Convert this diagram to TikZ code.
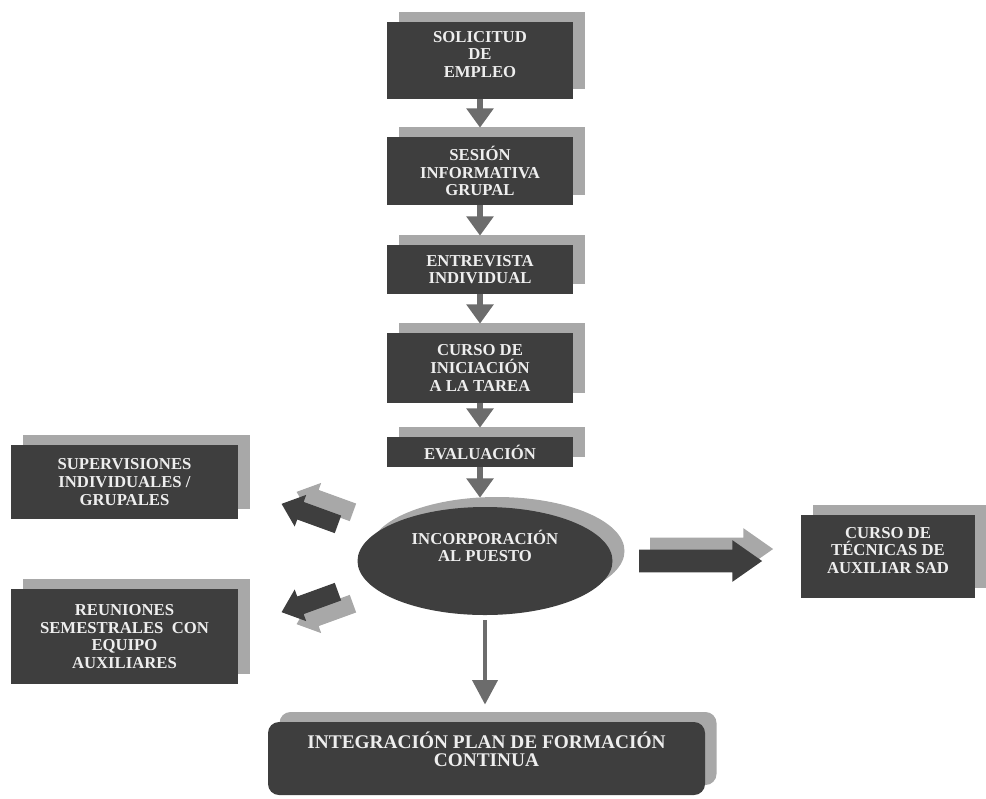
\documentclass[tikz,border=0pt]{standalone}
\usepackage{fontspec}
\setmainfont{Liberation Serif}
\usepackage{xcolor}
\usepackage{tikz}
\usetikzlibrary{shapes.geometric, shapes.arrows, arrows.meta, positioning, calc, shadows}
\definecolor{boxdark}{RGB}{62, 62, 62}
\definecolor{boxshade}{RGB}{168, 168, 168}
\definecolor{arrowgray}{RGB}{108, 108, 108}
\definecolor{textlight}{RGB}{238, 238, 238}
\tikzstyle{stage} = [rectangle, minimum width=3.72cm, inner sep=2pt, text centered, align=center, fill=boxdark, text=textlight, font=\bfseries\fontsize{9.5}{10}\selectfont, drop shadow={shadow xshift=0.23cm, shadow yshift=0.2cm, fill=boxshade, opacity=1}]
\tikzstyle{oval} = [ellipse, minimum width=5.1cm, minimum height=2.16cm, fill=boxdark, drop shadow={shadow xshift=0.24cm, shadow yshift=0.2cm, fill=boxshade, opacity=1}]
\tikzstyle{caption} = [align=center, inner sep=0pt, text=textlight, font=\bfseries\fontsize{9.5}{10}\selectfont]
\tikzstyle{flow} = [line width=3.4pt, draw=arrowgray, -{Triangle[width=15pt, length=11pt]}]
\tikzstyle{flowthin} = [line width=2.8pt, draw=arrowgray, -{Triangle[width=14pt, length=14pt]}]
\tikzstyle{fatarrow} = [single arrow, inner xsep=0pt, inner ysep=0.18cm, minimum height=1.2cm, minimum width=0.66cm, single arrow head extend=0.15cm, single arrow tip angle=80]
\tikzstyle{widearrow} = [fatarrow, inner ysep=0.22cm, minimum height=2.46cm, minimum width=0.82cm, single arrow head extend=0.19cm, single arrow tip angle=70]

\begin{document}
\begin{tikzpicture}
    \useasboundingbox (0,0) rectangle (19.72,-15.96);

    % Main column
    \node[stage, minimum height=1.54cm] (s1) at (9.6, -1.21) {SOLICITUD\\DE\\EMPLEO\\[-3pt]\mbox{}};
    \node[stage, minimum height=1.36cm] (s2) at (9.6, -3.42) {SESIÓN\\INFORMATIVA\\GRUPAL};
    \node[stage, minimum height=0.98cm] (s3) at (9.6, -5.39) {ENTREVISTA\\INDIVIDUAL};
    \node[stage, minimum height=1.4cm] (s4) at (9.6, -7.36) {CURSO DE\\INICIACIÓN\\A LA TAREA};
    \node[stage, minimum height=0.6cm] (s5) at (9.6, -9.04) {EVALUACIÓN};

    \node[oval] (inc) at (9.7, -11.22) {};
    \node[caption] (inctext) at ([yshift=0.3cm]inc.center) {INCORPORACIÓN\\AL PUESTO};

    % Side boxes
    \node[stage, minimum width=4.54cm, minimum height=1.48cm] (sup) at (2.49, -9.64) {SUPERVISIONES\\INDIVIDUALES /\\GRUPALES};
    \node[stage, minimum width=4.54cm, minimum height=1.9cm] (reu) at (2.49, -12.73) {REUNIONES\\SEMESTRALES\ \ CON\\EQUIPO\\AUXILIARES};
    \node[stage, minimum width=3.48cm, minimum height=1.66cm] (sad) at (17.76, -11.13) {CURSO DE\\TÉCNICAS DE\\AUXILIAR SAD\\[-3pt]\mbox{}};
    \node[stage, rounded corners=0.22cm, minimum width=8.74cm, minimum height=1.46cm, font=\bfseries\fontsize{11}{10.5}\selectfont] (plan) at (9.73, -15.17) {INTEGRACIÓN PLAN DE FORMACIÓN\\CONTINUA\\\mbox{}};

    % Arrows
    \draw[flow, shorten >=0.18cm] (s1) -- (s2);
    \draw[flow, shorten >=0.18cm] (s2) -- (s3);
    \draw[flow, shorten >=0.18cm] (s3) -- (s4);
    \draw[flow, shorten >=0.18cm] (s4) -- (s5);
    \draw[flow, shorten >=0.18cm] (s5.south) -- (s5.south |- inc.north);
    \draw[flowthin, shorten <=0.1cm, shorten >=0.34cm] (inc.south) -- (inc.south |- plan.north);

    % Block arrows
    \node[widearrow, fill=boxshade] (outRshade) at (14.07, -10.98) {};
    \node[widearrow, fill=boxdark] (outR) at (13.85, -11.22) {};
    \node[fatarrow, rotate=160, fill=boxshade] (outUshade) at (6.6, -10.08) {};
    \node[fatarrow, rotate=160, fill=boxdark] (outU) at (6.3, -10.32) {};
    \node[fatarrow, rotate=200, fill=boxshade] (outDshade) at (6.6, -12.24) {};
    \node[fatarrow, rotate=200, fill=boxdark] (outD) at (6.3, -12.0) {};
\end{tikzpicture}
\end{document}
